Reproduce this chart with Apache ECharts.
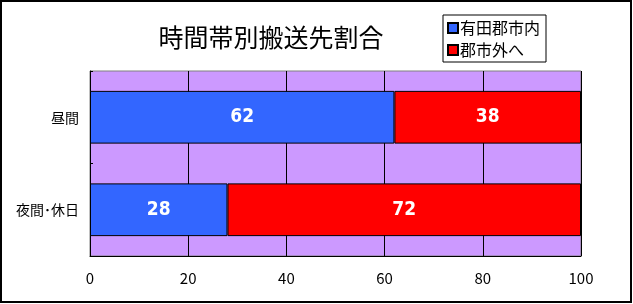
<!DOCTYPE html>
<html><head><meta charset="utf-8">
<script src="https://cdn.jsdelivr.net/npm/echarts@6/dist/echarts.min.js"></script>
<style>html,body{margin:0;padding:0;background:#fff}#c{width:633px;height:304px}</style>
</head><body><div id="c"></div>
<script>
const categories = ['昼間', '夜間･休日'];
const seriesNames = ['有田郡市内', '郡市外へ'];
const insideValues = [62, 28];
const outsideValues = [38, 72];
const xTicks = [0, 20, 40, 60, 80, 100];

const jp = '"Noto Sans CJK JP", "Noto Sans", sans-serif';
const labelStyle = {
  show: true, position: 'inside', color: '#fff', fontWeight: 'bold',
  fontSize: 19, fontFamily: '"Liberation Sans Narrow", "DejaVu Sans Condensed", sans-serif'
};
const chart = echarts.init(document.getElementById('c'));
chart.setOption({
  animation: false,
  backgroundColor: '#fff',
  title: {
    text: '時間帯別搬送先割合', left: 266, top: 20, textAlign: 'center',
    textStyle: { fontFamily: jp, fontWeight: 'normal', fontSize: 25, color: '#000' }
  },
  legend: {
    orient: 'vertical', left: 443, top: 15, padding: [5, 6, 4, 4],
    itemWidth: 10, itemHeight: 10, itemGap: 6, icon: 'rect',
    borderColor: '#000', borderWidth: 1, backgroundColor: '#fff',
    textStyle: { fontFamily: jp, fontSize: 16, color: '#000', padding: [0, 0, 0, -3] },
    data: seriesNames
  },
  grid: {
    left: 90, right: 52, top: 71, bottom: 48, show: true,
    backgroundColor: '#CC99FF', borderColor: '#808080', borderWidth: 1
  },
  xAxis: {
    type: 'value', min: xTicks[0], max: xTicks[xTicks.length - 1], interval: 20,
    axisLine: { show: true, lineStyle: { color: '#000', width: 1 } },
    axisTick: { show: false },
    axisLabel: { color: '#000', fontSize: 15, fontFamily: jp, margin: 15 },
    splitLine: { show: true, lineStyle: { color: '#000', width: 1 } }
  },
  yAxis: {
    type: 'category', data: categories, inverse: true,
    axisLine: { show: true, lineStyle: { color: '#000', width: 1 } },
    axisTick: { show: true, inside: true, length: 3, lineStyle: { color: '#000' } },
    axisLabel: { color: '#000', fontSize: 14, fontFamily: jp, margin: 11 }
  },
  series: [
    {
      name: seriesNames[0], type: 'bar', stack: 's', data: insideValues,
      barWidth: '57%',
      itemStyle: { color: '#3366FF', borderColor: '#000', borderWidth: 1 },
      label: labelStyle
    },
    {
      name: seriesNames[1], type: 'bar', stack: 's', data: outsideValues,
      barWidth: '57%',
      itemStyle: { color: '#FF0000', borderColor: '#000', borderWidth: 1 },
      label: labelStyle
    }
  ],
  graphic: [{
    type: 'rect', shape: { x: 1, y: 1, width: 630, height: 301 },
    style: { fill: 'none', stroke: '#000', lineWidth: 2 }, z: 100
  }]
});
</script></body></html>
